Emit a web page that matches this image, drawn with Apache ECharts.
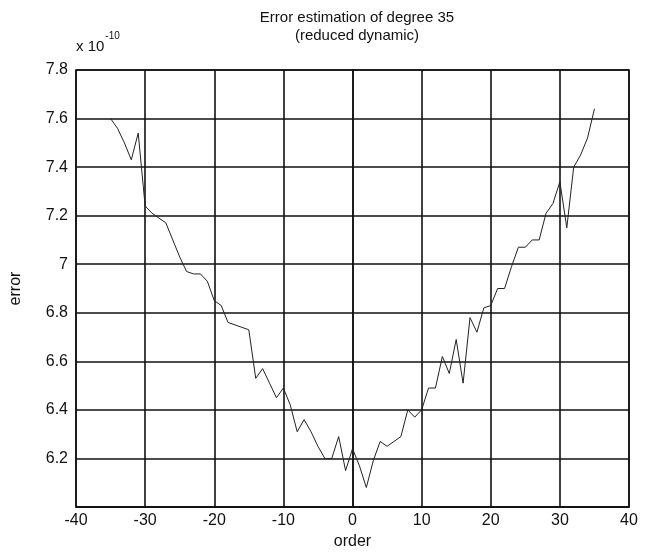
<!DOCTYPE html>
<html>
<head>
<meta charset="utf-8">
<script src="https://cdn.jsdelivr.net/npm/echarts@6/dist/echarts.min.js"></script>
<style>
  html, body { margin: 0; padding: 0; background: #fff; }
  #chart { width: 646px; height: 556px; }
</style>
</head>
<body>
<div id="chart"></div>
<script>
// Spherical-harmonic order of each estimate
const orders = [
  -35, -34, -33, -32, -31, -30, -29, -28, -27, -26, -25, -24, -23, -22, -21, -20,
  -19, -18, -17, -16, -15, -14, -13, -12, -11, -10, -9, -8, -7, -6, -5, -4, -3,
  -2, -1, 0, 1, 2, 3, 4, 5, 6, 7, 8, 9, 10, 11, 12, 13, 14, 15, 16, 17, 18, 19,
  20, 21, 22, 23, 24, 25, 26, 27, 28, 29, 30, 31, 32, 33, 34, 35
];
// Estimated error per order, in units of 1e-10
const errors = [
  7.60, 7.56, 7.50, 7.43, 7.54, 7.24, 7.21, 7.19, 7.17, 7.10, 7.03, 6.97, 6.96, 6.96, 6.93, 6.85,
  6.83, 6.76, 6.75, 6.74, 6.73, 6.53, 6.57, 6.51, 6.45, 6.49, 6.42, 6.31, 6.36, 6.31, 6.25, 6.20, 6.20,
  6.29, 6.15, 6.24, 6.17, 6.08, 6.19, 6.27, 6.25, 6.27, 6.29, 6.40, 6.37, 6.40, 6.49, 6.49, 6.62, 6.55,
  6.69, 6.51, 6.78, 6.72, 6.82, 6.83, 6.90, 6.90, 6.99, 7.07, 7.07, 7.10, 7.10, 7.21, 7.25, 7.34, 7.15,
  7.40, 7.45, 7.52, 7.64
];
// Axis ranges and ticks
const xTicks = { min: -40, max: 40, step: 10 };
const yTicks = { min: 6.0, max: 7.8, step: 0.2 };

const FONT = '"Liberation Sans", Arial, sans-serif';
const chart = echarts.init(document.getElementById('chart'), null, { renderer: 'canvas' });

const points = orders.map((o, i) => [o, errors[i]]);

chart.setOption({
  backgroundColor: '#ffffff',
  animation: false,
  title: {
    text: 'Error estimation of degree 35\n(reduced dynamic)',
    left: 352,
    textAlign: 'center',
    top: 4,
    textStyle: { fontFamily: FONT, fontSize: 15, fontWeight: 'normal', color: '#111', lineHeight: 18 }
  },
  grid: {
    left: 75, right: 17, top: 70, bottom: 49,
    show: true, borderColor: '#111', borderWidth: 1.5, backgroundColor: 'transparent'
  },
  xAxis: {
    type: 'value',
    min: xTicks.min, max: xTicks.max, interval: xTicks.step,
    name: 'order', nameLocation: 'middle', nameGap: 27,
    nameTextStyle: { fontFamily: FONT, fontSize: 16, color: '#111' },
    axisLine: { show: true, lineStyle: { color: '#111', width: 1.5 } },
    axisTick: { show: false },
    axisLabel: { fontFamily: FONT, fontSize: 16, color: '#111', margin: 6 },
    splitLine: { show: true, lineStyle: { color: '#111', width: 1.6 } }
  },
  yAxis: {
    type: 'value',
    min: yTicks.min, max: yTicks.max, interval: yTicks.step,
    name: 'error', nameLocation: 'middle', nameGap: 52, nameRotate: 90,
    nameTextStyle: { fontFamily: FONT, fontSize: 16, color: '#111' },
    axisLine: { show: true, lineStyle: { color: '#111', width: 1.5 } },
    axisTick: { show: false },
    axisLabel: {
      fontFamily: FONT, fontSize: 16, color: '#111', margin: 8,
      formatter: v => {
        const r = Math.round(v * 10) / 10;
        if (Math.abs(r - yTicks.min) < 1e-6) return '';
        return String(r);
      }
    },
    splitLine: { show: true, lineStyle: { color: '#111', width: 1.6 } }
  },
  graphic: [{
    type: 'text',
    left: 76, top: 31,
    style: {
      text: '{b|x 10}{s|-10}',
      rich: {
        b: { fontFamily: FONT, fontSize: 15, fill: '#111', verticalAlign: 'bottom', padding: [8, 0, 0, 0] },
        s: { fontFamily: FONT, fontSize: 10, fill: '#111', verticalAlign: 'top', padding: [0, 0, 8, 1] }
      }
    }
  }],
  series: [{
    type: 'line',
    data: points,
    showSymbol: false,
    lineStyle: { color: '#222', width: 1 },
    z: 5
  }]
});
</script>
</body>
</html>
